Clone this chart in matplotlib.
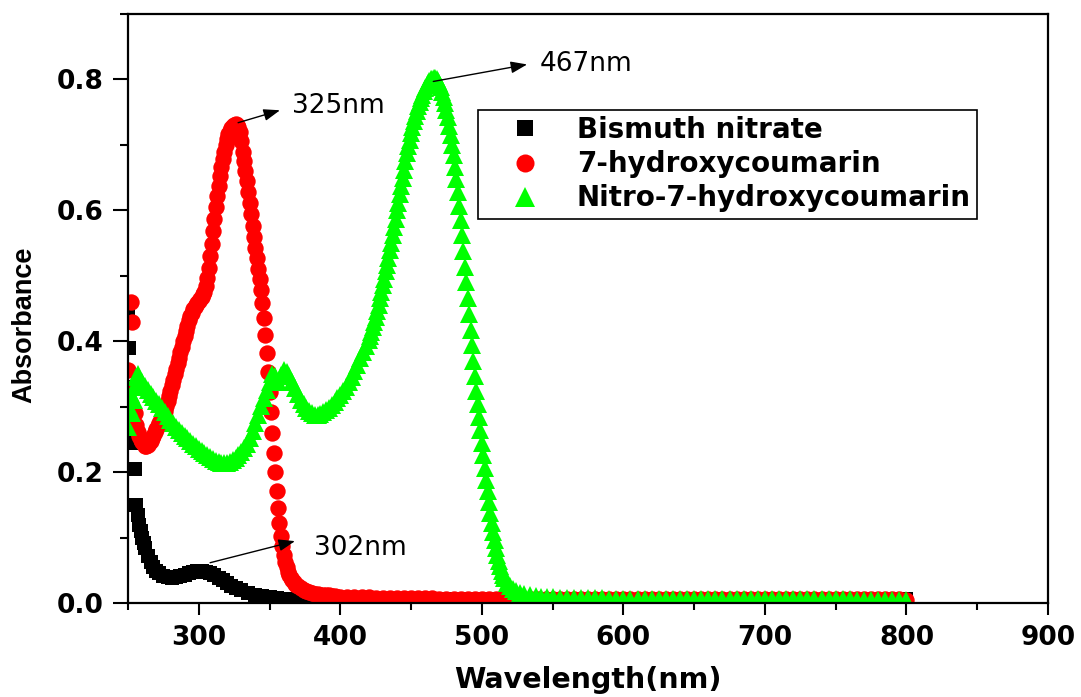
import matplotlib
matplotlib.use("Agg")
import matplotlib.pyplot as plt
from matplotlib.lines import Line2D
from matplotlib.ticker import MultipleLocator

# Bismuth nitrate
bi_nm = [250, 251, 252, 253, 254, 255, 256, 257, 258, 259, 260, 261, 262,
         264, 266, 268, 270, 272,
         275, 278, 281, 284, 287, 290, 293, 296, 299, 302, 305, 308, 311, 314, 317, 320, 323, 326,
         330, 335, 340, 345, 350, 355] + list(range(360, 801, 5))
bi_abs = [0.44, 0.39, 0.33, 0.29, 0.245, 0.205, 0.15, 0.135, 0.12, 0.11, 0.10, 0.092, 0.085,
          0.073, 0.063, 0.056, 0.050, 0.046,
          0.042, 0.040, 0.039, 0.040, 0.042, 0.044, 0.046, 0.048, 0.049, 0.049, 0.048, 0.046,
          0.043, 0.039, 0.035, 0.031, 0.027, 0.024,
          0.020, 0.016, 0.013, 0.011, 0.009, 0.008,
          # 360 .. 800 step 5
          0.007, 0.007, 0.006, 0.006, 0.006, 0.006, 0.006, 0.006, 0.006, 0.006,
          0.006, 0.006, 0.006, 0.006, 0.006, 0.006, 0.006, 0.006, 0.006, 0.006,
          0.006, 0.006, 0.006, 0.006, 0.006, 0.006, 0.006, 0.006, 0.006, 0.006,
          0.006, 0.006, 0.006, 0.006, 0.006, 0.005, 0.005, 0.005, 0.005, 0.005,
          0.005, 0.005, 0.005, 0.005, 0.005, 0.005, 0.005, 0.005, 0.005, 0.005,
          0.005, 0.005, 0.005, 0.005, 0.005, 0.005, 0.005, 0.005, 0.005, 0.005,
          0.005, 0.005, 0.005, 0.005, 0.005, 0.005, 0.005, 0.005, 0.005, 0.005,
          0.005, 0.005, 0.005, 0.005, 0.005, 0.005, 0.005, 0.005, 0.005, 0.005,
          0.005, 0.005, 0.005, 0.005, 0.005, 0.005, 0.005, 0.005, 0.006]

# 7-hydroxycoumarin
hc_nm = [250, 252, 253, 254, 255, 256, 257] + list(range(258, 371)) + \
        list(range(372, 401, 2)) + list(range(405, 801, 5))
hc_abs = [0.356, 0.46, 0.43, 0.33, 0.29, 0.272, 0.262,
          # 258 .. 370 step 1
          0.255, 0.250, 0.246, 0.243, 0.241, 0.241, 0.242, 0.245, 0.248, 0.252,
          0.256, 0.261, 0.266, 0.271, 0.276, 0.281, 0.285, 0.290, 0.294, 0.301,
          0.309, 0.317, 0.325, 0.333, 0.341, 0.350, 0.358, 0.367, 0.375, 0.384,
          0.392, 0.400, 0.408, 0.416, 0.424, 0.432, 0.439, 0.444, 0.449, 0.453,
          0.456, 0.459, 0.462, 0.465, 0.468, 0.472, 0.476,
          0.485, 0.497, 0.512, 0.530, 0.549, 0.568, 0.587, 0.605, 0.622, 0.638,
          0.653, 0.667, 0.679, 0.690, 0.700, 0.709, 0.716, 0.722, 0.726, 0.729,
          0.731, 0.732, 0.731, 0.727, 0.720, 0.706, 0.690, 0.675, 0.660, 0.645,
          0.628, 0.611, 0.594, 0.577, 0.560, 0.543, 0.527, 0.511, 0.495, 0.478,
          0.458, 0.435, 0.410, 0.383, 0.354, 0.323, 0.292, 0.260, 0.230, 0.200,
          0.172, 0.146, 0.123, 0.103, 0.087, 0.074, 0.063, 0.055, 0.048, 0.043,
          0.039, 0.035, 0.032, 0.030, 0.028, 0.026,
          # 372 .. 400 step 2
          0.023, 0.021, 0.019, 0.017, 0.016, 0.015, 0.014, 0.013, 0.013, 0.012,
          0.012, 0.011, 0.011, 0.010, 0.010,
          # 405 .. 800 step 5
          0.009, 0.009, 0.009, 0.009, 0.008, 0.008, 0.008, 0.008, 0.008, 0.008,
          0.008, 0.008, 0.008, 0.007, 0.007, 0.007, 0.007, 0.007, 0.007, 0.007,
          0.007, 0.007, 0.007, 0.007, 0.007, 0.007, 0.007, 0.007, 0.007, 0.007,
          0.007, 0.007, 0.007, 0.007, 0.006, 0.006, 0.006, 0.006, 0.006, 0.006,
          0.006, 0.006, 0.006, 0.006, 0.006, 0.006, 0.006, 0.006, 0.006, 0.006,
          0.006, 0.006, 0.006, 0.006, 0.006, 0.006, 0.006, 0.006, 0.006, 0.006,
          0.006, 0.006, 0.006, 0.006, 0.006, 0.006, 0.006, 0.006, 0.006, 0.006,
          0.006, 0.006, 0.006, 0.006, 0.006, 0.006, 0.006, 0.006, 0.006, 0.005]

# Nitro-7-hydroxycoumarin
nhc_nm = [250, 251, 252, 253, 254, 255, 256, 257] + list(range(258, 419, 2)) + \
         list(range(420, 517)) + [518, 520, 522, 524, 527, 530, 534, 538, 542, 546, 550] + \
         list(range(555, 801, 5))
nhc_abs = [0.27, 0.30, 0.32, 0.29, 0.31, 0.33, 0.345, 0.35,
           # 258 .. 418 step 2
           0.345, 0.338, 0.332, 0.326, 0.320, 0.315, 0.309, 0.304, 0.298, 0.292,
           0.286, 0.280, 0.275, 0.270, 0.265, 0.260, 0.256, 0.252, 0.248, 0.244,
           0.240, 0.236, 0.232, 0.229, 0.226, 0.223, 0.220, 0.218, 0.216, 0.215,
           0.214, 0.215, 0.216, 0.219, 0.222, 0.226, 0.231, 0.237, 0.244, 0.253,
           0.263, 0.275, 0.288, 0.301, 0.314, 0.326, 0.338, 0.350, 0.347, 0.338,
           0.348, 0.356, 0.354, 0.347, 0.338, 0.329, 0.320, 0.311, 0.304, 0.298,
           0.293, 0.290, 0.288, 0.288, 0.289, 0.292, 0.295, 0.299, 0.303, 0.308,
           0.313, 0.318, 0.324, 0.330, 0.338, 0.346, 0.355, 0.364, 0.374, 0.384,
           0.393,
           # 420 .. 516 step 1
           0.402, 0.408, 0.415, 0.422, 0.430, 0.438, 0.447, 0.456, 0.466, 0.476,
           0.486, 0.496, 0.507, 0.517, 0.528, 0.539, 0.551, 0.563, 0.575, 0.587,
           0.600, 0.612, 0.625, 0.637, 0.650, 0.662, 0.675, 0.687, 0.698, 0.708,
           0.718, 0.727, 0.736, 0.744, 0.752, 0.759, 0.765, 0.771, 0.777, 0.782,
           0.787, 0.791, 0.795, 0.798, 0.800, 0.801, 0.802,
           0.802, 0.801, 0.798, 0.794, 0.788, 0.781, 0.773, 0.764, 0.754, 0.742,
           0.729, 0.715, 0.700, 0.684, 0.667, 0.648, 0.628, 0.607, 0.585, 0.562,
           0.538, 0.514, 0.490, 0.466, 0.442, 0.418, 0.394, 0.370, 0.347, 0.325,
           0.305, 0.285, 0.265, 0.245, 0.226, 0.207, 0.189, 0.171, 0.154, 0.138,
           0.123, 0.109, 0.096, 0.084, 0.074, 0.065, 0.057, 0.050, 0.044, 0.039,
           0.031, 0.026, 0.022, 0.019, 0.016, 0.014, 0.012, 0.011, 0.010, 0.009, 0.009,
           # 555 .. 800 step 5
           0.008, 0.008, 0.008, 0.008, 0.008, 0.008, 0.008, 0.007, 0.007, 0.007,
           0.007, 0.007, 0.007, 0.007, 0.007, 0.007, 0.007, 0.007, 0.006, 0.006,
           0.006, 0.006, 0.006, 0.006, 0.006, 0.006, 0.006, 0.006, 0.006, 0.006,
           0.006, 0.006, 0.006, 0.006, 0.006, 0.006, 0.006, 0.006, 0.006, 0.006,
           0.006, 0.006, 0.005, 0.005, 0.005, 0.005, 0.005, 0.005, 0.005, 0.005]

series_labels = ['Bismuth nitrate', '7-hydroxycoumarin', 'Nitro-7-hydroxycoumarin']

# peak labels: (text, arrow start, arrow end, text position)
peak_notes = [
    ('325nm', (327.8, 0.734), (357.4, 0.753), (366, 0.759)),
    ('467nm', (465.7, 0.797), (532, 0.823), (541, 0.823)),
    ('302nm', (308, 0.062), (368, 0.095), (381.5, 0.0846)),
]


def draw_spectra():
    plt.rcParams['font.weight'] = 'bold'
    fig = plt.figure(figsize=(10.81, 6.97), dpi=100)
    ax = fig.add_axes([0.1184, 0.1344, 0.8511, 0.8455])

    ax.plot(bi_nm, bi_abs, ls='none', marker='s', ms=10.5, mew=0, color='#000000')
    ax.plot(hc_nm, hc_abs, ls='none', marker='o', ms=11.8, mew=0, color='#ff0000')
    ax.plot(nhc_nm, nhc_abs, ls='none', marker='^', ms=12.5, mew=0, color='#00ff00')

    for text, start, end, pos in peak_notes:
        ax.annotate('', xy=end, xytext=start,
                    arrowprops=dict(arrowstyle='-|>,head_length=0.55,head_width=0.2',
                                    mutation_scale=18, lw=1.0, color='black',
                                    shrinkA=0, shrinkB=0))
        ax.text(pos[0], pos[1], text, fontsize=19, fontweight='normal',
                ha='left', va='center')

    ax.set_xlim(250, 900)
    ax.set_ylim(0, 0.9)
    ax.set_xticks([300, 400, 500, 600, 700, 800, 900])
    ax.xaxis.set_minor_locator(MultipleLocator(50))
    ax.set_yticks([0.0, 0.2, 0.4, 0.6, 0.8])
    ax.yaxis.set_minor_locator(MultipleLocator(0.1))

    ax.tick_params(axis='x', which='major', direction='out', length=8.5, width=1.5,
                   pad=7, labelsize=19)
    ax.tick_params(axis='x', which='minor', direction='out', length=5, width=1.5)
    ax.tick_params(axis='y', which='major', direction='out', length=10.8, width=1.5,
                   pad=7, labelsize=19)
    ax.tick_params(axis='y', which='minor', direction='out', length=5.8, width=1.5)
    for side in ax.spines.values():
        side.set_linewidth(1.6)

    ax.set_xlabel('Wavelength(nm)', fontsize=20.5, fontweight='bold')
    ax.xaxis.set_label_coords(0.5, -0.106)
    ax.set_ylabel('Absorbance', fontsize=19.5, fontweight='bold',
                  family='Liberation Sans')
    ax.yaxis.set_label_coords(-0.098, 0.472)

    handles = [
        Line2D([], [], ls='none', marker='s', ms=11, mew=0, color='#000000'),
        Line2D([], [], ls='none', marker='o', ms=13, mew=0, color='#ff0000'),
        Line2D([], [], ls='none', marker='^', ms=14, mew=0, color='#00ff00'),
    ]
    leg = ax.legend(handles, series_labels, loc='upper left',
                    bbox_to_anchor=(0.380, 0.837), borderaxespad=0,
                    fontsize=20, fancybox=False, framealpha=1, edgecolor='black',
                    borderpad=0.22, labelspacing=0.22, handlelength=2.95,
                    handletextpad=0.4, numpoints=1)
    leg.get_frame().set_linewidth(1.2)

    fig.savefig('out.png', dpi=100)


if __name__ == "__main__":
    draw_spectra()
